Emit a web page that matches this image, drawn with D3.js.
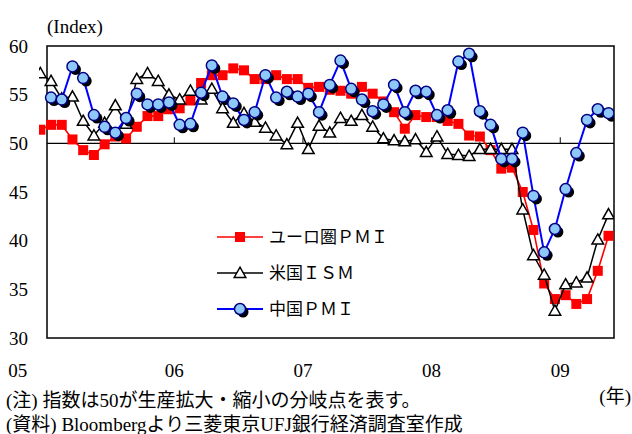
<!DOCTYPE html>
<html><head><meta charset="utf-8">
<script src="https://cdn.jsdelivr.net/npm/d3@7"></script>
<style>body{margin:0;background:#fff}svg{display:block}</style>
</head><body>
<script>
// months Dec 2004 .. May 2009 (index 0..53)
const yearLabels = ["05","06","07","08","09"];
const yTicks = [30,35,40,45,50,55,60];
const seriesNames = ["ユーロ圏ＰＭＩ","米国ＩＳＭ","中国ＰＭＩ"];
const euroPMI = [51.4,
 51.9,51.9,50.4,49.3,48.8,49.9,50.7,50.5,51.7,52.8,52.8,53.5,
 53.6,54.4,56.2,57.0,57.0,57.7,57.5,56.6,56.6,57.0,56.6,56.6,
 55.7,55.8,55.5,55.4,55.1,55.8,55.1,54.3,53.2,51.5,52.9,52.7,
 52.7,52.3,52.0,50.8,50.7,49.3,47.4,47.5,45.0,41.1,35.6,34.0,
 34.4,33.5,34.0,36.9,40.5];
const usISM = [57.2,
 56.4,54.6,54.8,52.3,50.8,52.1,53.9,52.0,56.6,57.2,56.4,55.0,
 54.5,55.4,54.5,55.6,53.6,52.1,53.1,52.2,51.6,50.8,49.9,52.1,
 49.4,51.8,51.1,52.6,52.3,52.9,51.7,50.5,50.3,50.2,50.4,49.1,
 50.7,48.9,48.8,48.7,49.4,49.4,49.4,49.4,43.2,38.5,36.5,32.8,
 35.5,35.7,36.2,40.1,42.7];
const chinaPMI = [null,
 54.7,54.5,57.9,56.7,52.9,51.7,51.1,52.6,55.1,54.0,54.0,54.2,
 51.9,52.0,55.2,58.0,54.8,54.1,52.4,53.2,57.0,54.7,55.3,54.8,
 55.1,53.2,56.0,58.5,55.6,54.5,53.3,54.0,56.0,53.2,55.4,55.3,
 52.9,53.4,58.4,59.2,53.3,51.9,48.4,48.4,51.1,44.6,38.8,41.2,
 45.3,49.0,52.4,53.5,53.1];

const W=632,H=434;
const FONT="'Liberation Serif','Times New Roman','Noto Sans CJK JP',serif";
const svg=d3.select("body").append("svg").attr("width",W).attr("height",H)
  .style("font-family",FONT);

const frame={l:47,r:614,t:46,b:338};
const x=d3.scaleLinear().domain([0,53]).range([40.3,608.5]);
const y=d3.scaleLinear().domain([30,60]).range([frame.b,frame.t]);

// frame
svg.append("rect").attr("x",frame.l).attr("y",frame.t)
  .attr("width",frame.r-frame.l).attr("height",frame.b-frame.t)
  .attr("fill","none").attr("stroke","#000").attr("stroke-width",1.5);
// 50 line with year ticks
svg.append("line").attr("x1",frame.l).attr("x2",frame.r)
  .attr("y1",y(50)).attr("y2",y(50)).attr("stroke","#000").attr("stroke-width",1.2);
const yearBounds=[12.5,24.5,36.5,48.5];
svg.selectAll(".yt").data(yearBounds).join("line")
  .attr("x1",d=>x(d)).attr("x2",d=>x(d)).attr("y1",y(50)).attr("y2",y(50)-6)
  .attr("stroke","#000").attr("stroke-width",1);

// y labels
svg.selectAll(".yl").data(yTicks).join("text")
  .attr("x",28).attr("y",d=>y(d)+6.5).attr("text-anchor","end")
  .attr("font-size",19).text(d=>d);
svg.append("text").attr("x",47).attr("y",33).attr("font-size",19).text("(Index)");

// x labels
const xlabPos=[-2.1,12.5,24.5,36.5,48.5];
svg.selectAll(".xl").data(yearLabels).join("text")
  .attr("x",(d,i)=>x(xlabPos[i])).attr("y",377).attr("text-anchor","middle")
  .attr("font-size",19).text(d=>d);
svg.append("text").attr("x",631).attr("y",403).attr("text-anchor","end")
  .attr("font-size",19).text("(年)");

// notes
svg.append("text").attr("x",6).attr("y",407).attr("font-size",19)
  .text("(注) 指数は50が生産拡大・縮小の分岐点を表す。");
svg.append("text").attr("x",6).attr("y",431).attr("font-size",19)
  .text("(資料) Bloombergより三菱東京UFJ銀行経済調査室作成");

// clip for data
svg.append("clipPath").attr("id","clip").append("rect")
  .attr("x",39).attr("y",0).attr("width",frame.r-39).attr("height",H);
const g=svg.append("g").attr("clip-path","url(#clip)");

const line=d3.line().defined(d=>d!=null).x((d,i)=>x(i)).y(d=>y(d));
const pts=arr=>arr.map((v,i)=>({i,v})).filter(d=>d.v!=null);
const triPath=(cx,cy)=>`M${cx},${cy-5.8}L${cx+5.8},${cy+4.4}L${cx-5.8},${cy+4.4}Z`;

// Euro
g.append("path").attr("d",line(euroPMI)).attr("fill","none").attr("stroke","#ff0000").attr("stroke-width",1.6);
g.append("g").selectAll("rect").data(pts(euroPMI)).join("rect")
  .attr("x",d=>x(d.i)-5).attr("y",d=>y(d.v)-5).attr("width",10).attr("height",10)
  .attr("fill","#ff0000");
// ISM
g.append("path").attr("d",line(usISM)).attr("fill","none").attr("stroke","#000").attr("stroke-width",1.5);
g.append("g").selectAll("path").data(pts(usISM)).join("path")
  .attr("d",d=>triPath(x(d.i),y(d.v))).attr("fill","#fff").attr("stroke","#000").attr("stroke-width",1.5);
// China
g.append("path").attr("d",line(chinaPMI)).attr("fill","none").attr("stroke","#0000ff").attr("stroke-width",2);
const cp=pts(chinaPMI);
g.append("g").selectAll("circle").data(cp).join("circle")
  .attr("cx",d=>x(d.i)+3).attr("cy",d=>y(d.v)+3).attr("r",5.5).attr("fill","#000");
g.append("g").selectAll("circle").data(cp).join("circle")
  .attr("cx",d=>x(d.i)).attr("cy",d=>y(d.v)).attr("r",5.5)
  .attr("fill","#8ec8f8").attr("stroke","#000080").attr("stroke-width",1.5);

// legend
const lg=svg.append("g");
const ly=[237,273,309];
const colors=["#ff0000","#000","#0000ff"];
seriesNames.forEach((name,k)=>{
  lg.append("line").attr("x1",217).attr("x2",263).attr("y1",ly[k]).attr("y2",ly[k])
    .attr("stroke",colors[k]).attr("stroke-width",k==2?2:1.6);
  if(k==0) lg.append("rect").attr("x",235).attr("y",ly[k]-5).attr("width",10).attr("height",10).attr("fill","#ff0000");
  if(k==1) lg.append("path").attr("d",triPath(240,ly[k])).attr("fill","#fff").attr("stroke","#000").attr("stroke-width",1.5);
  if(k==2){
    lg.append("circle").attr("cx",243).attr("cy",ly[k]+3).attr("r",5.5).attr("fill","#000");
    lg.append("circle").attr("cx",240).attr("cy",ly[k]).attr("r",5.5).attr("fill","#8ec8f8").attr("stroke","#000080").attr("stroke-width",1.5);
  }
  lg.append("text").attr("x",269).attr("y",ly[k]+6).attr("font-size",17).text(name);
});
</script>
</body></html>
